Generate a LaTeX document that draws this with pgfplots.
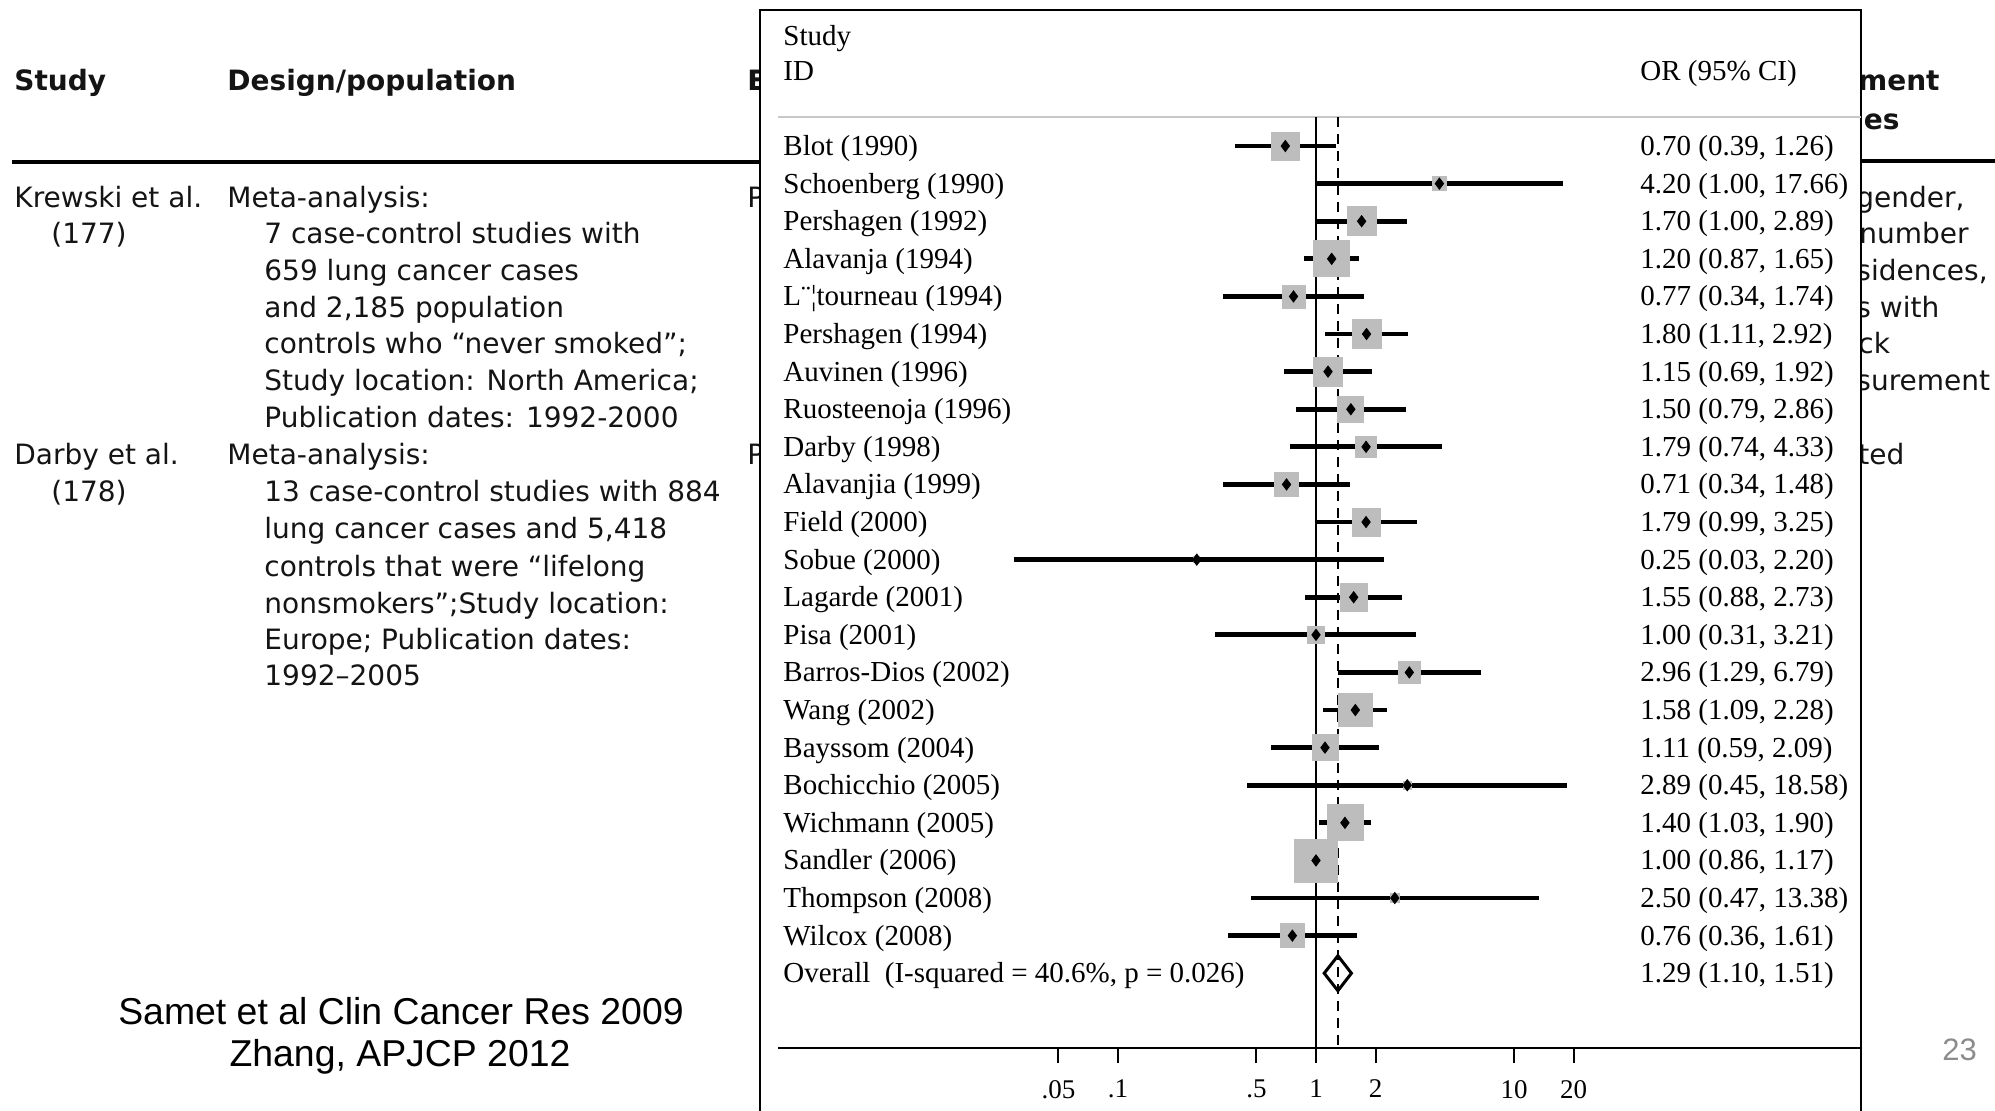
\documentclass[border=0pt]{standalone}
\usepackage{pgfplots}
\pgfplotsset{compat=1.18}
\usepackage{pgfplotstable}
\usepackage{fontspec}
\setmainfont{Liberation Serif}
\newfontfamily\tabfont{DejaVu Sans}
\newfontfamily\timesf{Liberation Serif}
\newfontfamily\arialf{Liberation Sans}

\definecolor{sq}{RGB}{189,189,189}
\definecolor{sep}{RGB}{200,200,200}
\definecolor{pgnum}{RGB}{140,140,140}

% study-level odds ratios (95% CI) and box size of each study
\pgfplotstableread[col sep=comma]{
row,name,or,lo,hi,w
1,Blot (1990),0.70,0.39,1.26,28
2,Schoenberg (1990),4.20,1.00,17.66,14
3,Pershagen (1992),1.70,1.00,2.89,29
4,Alavanja (1994),1.20,0.87,1.65,36
5,L¨¦tourneau (1994),0.77,0.34,1.74,23
6,Pershagen (1994),1.80,1.11,2.92,29
7,Auvinen (1996),1.15,0.69,1.92,29
8,Ruosteenoja (1996),1.50,0.79,2.86,26
9,Darby (1998),1.79,0.74,4.33,21
10,Alavanjia (1999),0.71,0.34,1.48,23.5
11,Field (2000),1.79,0.99,3.25,28
12,Sobue (2000),0.25,0.03,2.20,6
13,Lagarde (2001),1.55,0.88,2.73,27.5
14,Pisa (2001),1.00,0.31,3.21,17
15,Barros-Dios (2002),2.96,1.29,6.79,21.5
16,Wang (2002),1.58,1.09,2.28,33.5
17,Bayssom (2004),1.11,0.59,2.09,26
18,Bochicchio (2005),2.89,0.45,18.58,8
19,Wichmann (2005),1.40,1.03,1.90,36
20,Sandler (2006),1.00,0.86,1.17,43
21,Thompson (2008),2.50,0.47,13.38,9
22,Wilcox (2008),0.76,0.36,1.61,24
}\studies

\newcommand\tabtext{\tabfont\fontsize{14pt}{16pt}\selectfont}
\newcommand\tabbold{\tabfont\fontsize{14pt}{16pt}\selectfont\bfseries}
\newcommand\fptext{\timesf\fontsize{14.5pt}{16pt}\selectfont}

\begin{document}
\begin{tikzpicture}[x=0.5pt,y=-0.5pt]
\useasboundingbox (0,0) rectangle (1995,1110);
\clip (0,0) rectangle (1995,1110);

% ---- slide table behind the plot ----
\begin{scope}[every node/.style={anchor=base west, inner sep=0pt, text=black!92}]
  \node[font=\tabbold] at (14,90) {Study};
  \node[font=\tabbold] at (227,90) {Design/population};
  \node[font=\tabbold] at (747,90) {E};
  \node[font=\tabbold, anchor=base east] at (1940,90) {ment};
  \node[font=\tabbold, anchor=base east] at (1900,129) {les};

  \node[font=\tabtext] at (14,207) {Krewski et al.};
  \node[font=\tabtext] at (227,207) {Meta-analysis:};
  \node[font=\tabtext] at (747,207) {P};
  \node[font=\tabtext] at (51,243) {(177)};
  \node[font=\tabtext] at (264,243) {7 case-control studies with};
  \node[font=\tabtext] at (264,280) {659 lung cancer cases};
  \node[font=\tabtext] at (264,317) {and 2,185 population};
  \node[font=\tabtext] at (264,353) {controls who “never smoked”;};
  \node[font=\tabtext] at (264,390) {Study location: North America;};
  \node[font=\tabtext] at (264,427) {Publication dates: 1992-2000};

  \node[font=\tabtext] at (14,464) {Darby et al.};
  \node[font=\tabtext] at (227,464) {Meta-analysis:};
  \node[font=\tabtext] at (747,464) {P};
  \node[font=\tabtext] at (51,501) {(178)};
  \node[font=\tabtext] at (264,501) {13 case-control studies with 884};
  \node[font=\tabtext] at (264,538) {lung cancer cases and 5,418};
  \node[font=\tabtext] at (264,576) {controls that were “lifelong};
  \node[font=\tabtext] at (264,613) {nonsmokers”;Study location:};
  \node[font=\tabtext] at (264,649) {Europe; Publication dates:};
  \node[font=\tabtext] at (264,685) {1992–2005};

  \node[font=\tabtext] at (1856,207) {gender,};
  \node[font=\tabtext] at (1859,243) {number};
  \node[font=\tabtext] at (1856,280) {sidences,};
  \node[font=\tabtext] at (1856,317) {s with};
  \node[font=\tabtext] at (1858,353) {ck};
  \node[font=\tabtext] at (1856,390) {surement};
  \node[font=\tabtext] at (1858,464) {ted};
\end{scope}
\draw[line width=2.3pt] (12,162) -- (760,162);
\draw[line width=2.3pt] (1861,161) -- (1995,161);

% citation and slide number
\node[font=\arialf\fontsize{18.7pt}{20pt}\selectfont, anchor=base] at (401,1024) {Samet et al Clin Cancer Res 2009};
\node[font=\arialf\fontsize{18.7pt}{20pt}\selectfont, anchor=base] at (400,1066) {Zhang, APJCP 2012};
\node[font=\arialf\fontsize{15.5pt}{17pt}\selectfont, anchor=base west, text=pgnum, inner sep=0pt] at (1942,1060) {23};

% ---- forest plot panel ----
\fill[white] (760,10) rectangle (1861,1130);
\draw[line width=1.25pt] (760,10) rectangle (1861,1130);
\draw[sep, line width=0.8pt] (778,117) -- (1861,117);

\begin{scope}[every node/.style={anchor=base west, inner sep=0pt, font=\fptext}]
  \node at (783,45.5) {Study};
  \node at (783,80.5) {ID};
  \node at (1640,80.5) {OR (95\% CI)};
  \foreach \i in {0,...,21} {
    \pgfplotstablegetelem{\i}{name}\of\studies \let\nm\pgfplotsretval
    \pgfplotstablegetelem{\i}{or}\of\studies \let\vor\pgfplotsretval
    \pgfplotstablegetelem{\i}{lo}\of\studies \let\vlo\pgfplotsretval
    \pgfplotstablegetelem{\i}{hi}\of\studies \let\vhi\pgfplotsretval
    \node at (783,{146+37.6*\i+9.5}) {\nm};
    \node at (1640,{146+37.6*\i+9.5}) {\vor\ (\vlo, \vhi)};
  }
  \node at (783,982.7) {Overall\ \ (I-squared = 40.6\%, p = 0.026)};
  \node at (1640,982.7) {1.29 (1.10, 1.51)};
\end{scope}

\begin{axis}[
  at={(389pt,-524pt)}, anchor=south west,
  scale only axis, width=541.5pt, height=465.5pt,
  xmode=log, xmin=0.0019183, xmax=565.7,
  ymin=0.2287, ymax=24.989, y dir=reverse,
  axis x line=bottom, axis y line=none,
  x axis line style={-, line width=1.2pt},
  xtick={0.05,0.1,0.5,1,2,10,20},
  xticklabels={.05,.1,.5,1,2,10,20},
  xminorticks=false, ytick=\empty,
  xtick align=outside, major tick length=7.5pt,
  every tick/.style={black, line width=1pt},
  xticklabel style={font=\timesf\fontsize{13.5pt}{15pt}\selectfont, yshift=-5pt},
  clip=false,
]
  % line of no effect and pooled estimate
  \addplot[black, line width=1pt] coordinates {(1,0.2287) (1,24.989)};
  \addplot[black, line width=0.8pt, dash pattern=on 5pt off 3.5pt]
    coordinates {(1.29,0.2287) (1.29,24.989)};
  % study weights as grey boxes
  \addplot[only marks, mark=square*, scatter,
    scatter/use mapped color={draw=sq, fill=sq},
    visualization depends on={0.25*\thisrow{w} \as \msz},
    scatter/@pre marker code/.append style={/tikz/mark size=\msz}]
    table[x=or, y=row] {\studies};
  % confidence intervals and point estimates
  \addplot[only marks, mark=diamond*, mark size=2.8pt, black,
    error bars/.cd, x dir=both, x explicit, error mark=none,
    error bar style={line width=2.4pt, black}]
    table[x=or, y=row,
      x error plus expr=\thisrow{hi}-\thisrow{or},
      x error minus expr=\thisrow{or}-\thisrow{lo}] {\studies};
  % pooled estimate
  \addplot[black, line width=1.5pt, line join=miter]
    coordinates {(1.10,23) (1.29,22.535) (1.51,23) (1.29,23.465)} -- cycle;
\end{axis}
\end{tikzpicture}
\end{document}
